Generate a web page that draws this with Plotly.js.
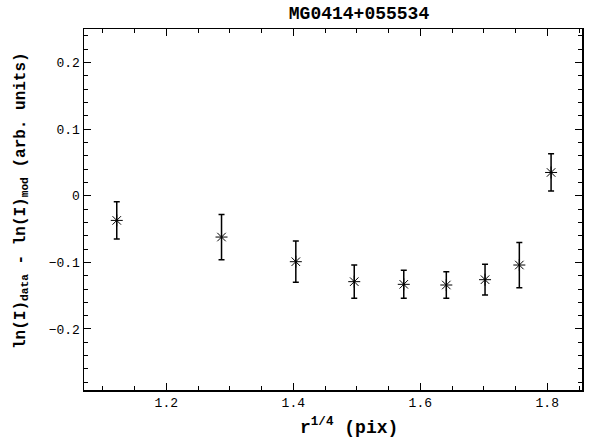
<!DOCTYPE html>
<html>
<head>
<meta charset="utf-8">
<script src="https://cdn.plot.ly/plotly-3.0.1.min.js"></script>
<style>html,body{margin:0;padding:0;background:#fff;}#chart{width:593px;height:438px;}</style>
</head>
<body>
<div id="chart"></div>
<script>
// r^{1/4} values (pix)
const rQuarter = [1.122, 1.287, 1.404, 1.496, 1.574, 1.641, 1.702, 1.756, 1.806];
// ln(I)_data - ln(I)_mod residuals
const residual = [-0.037, -0.062, -0.099, -0.129, -0.133, -0.134, -0.126, -0.104, 0.035];
// 1-sigma errors
const residualErr = [0.028, 0.034, 0.031, 0.025, 0.021, 0.020, 0.023, 0.034, 0.028];

const titleText = 'MG0414+055534';
const xTitle = 'r<sup>1/4</sup> (pix)';
const yTitle = 'ln(I)<sub>data</sub> - ln(I)<sub>mod</sub> (arb. units)';

const mono = 'Liberation Mono, Courier New, monospace';

const trace = {
  x: rQuarter,
  y: residual,
  type: 'scatter',
  mode: 'markers',
  marker: {symbol: 'asterisk-open', size: 10, color: '#000', line: {width: 1, color: '#000'}},
  error_y: {type: 'data', array: residualErr, visible: true, color: '#000', thickness: 1.5, width: 3},
  showlegend: false,
  hoverinfo: 'x+y'
};

const axisCommon = {
  showgrid: false,
  zeroline: false,
  showline: true,
  linecolor: '#000',
  linewidth: 1.5,
  mirror: 'allticks',
  ticks: 'inside',
  ticklen: 7,
  tickwidth: 1,
  tickcolor: '#000',
  tickfont: {family: mono, size: 13, color: '#000'},
  automargin: false
};

const layout = {
  width: 593,
  height: 438,
  margin: {l: 84, r: 11, t: 29, b: 48},
  paper_bgcolor: '#fff',
  plot_bgcolor: '#fff',
  title: {text: '<b>' + titleText + '</b>', font: {family: mono, size: 18, color: '#000'},
          x: 359 / 593, xanchor: 'center', xref: 'container', y: 1 - 13 / 438, yanchor: 'middle', yref: 'container'},
  xaxis: Object.assign({}, axisCommon, {
    range: [1.0704, 1.8547],
    tick0: 0, dtick: 0.2,
    tickformat: '.1f',
    minor: {dtick: 0.05, tick0: 0, ticks: 'inside', ticklen: 4, tickwidth: 1, tickcolor: '#000'}
  }),
  yaxis: Object.assign({}, axisCommon, {
    range: [-0.2917, 0.2505],
    tick0: 0, dtick: 0.1,
    minor: {dtick: 0.02, tick0: 0, ticks: 'inside', ticklen: 4, tickwidth: 1, tickcolor: '#000'}
  }),
  annotations: [
    {text: '<b>' + xTitle + '</b>', xref: 'paper', yref: 'paper',
     x: (349 - 84) / 498, y: (390 - 427) / 361, xanchor: 'center', yanchor: 'middle',
     showarrow: false, font: {family: mono, size: 18, color: '#000'}},
    {text: '<b>' + yTitle + '</b>', xref: 'paper', yref: 'paper', textangle: -90,
     x: (21 - 84) / 498, y: (390 - 201) / 361, xanchor: 'center', yanchor: 'middle',
     showarrow: false, font: {family: mono, size: 16, color: '#000'}}
  ]
};

Plotly.newPlot('chart', [trace], layout, {displayModeBar: false, staticPlot: true});
</script>
</body>
</html>
